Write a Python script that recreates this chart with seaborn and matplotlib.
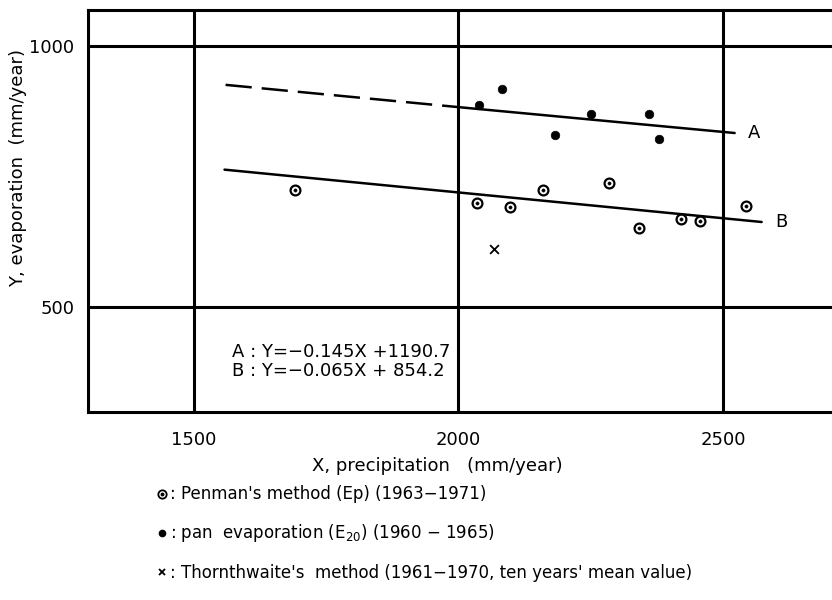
import matplotlib
matplotlib.use("Agg")
import matplotlib.pyplot as plt
import seaborn as sns
import pandas as pd
from matplotlib.lines import Line2D
from matplotlib.legend_handler import HandlerTuple

# values
penman_x = [1692, 2035, 2097, 2159, 2284, 2341, 2420, 2456, 2543]
penman_y = [725, 699, 691, 724, 738, 651, 668, 665, 694]
pan_x = [2038, 2083, 2183, 2250, 2361, 2380]
pan_y = [887, 917, 829, 869, 869, 822]
thorn_x = [2067]
thorn_y = [611]

# regression lines as drawn
line_a_dash_x = [1560, 2015]
line_a_dash_y = [925, 881]
line_a_x = [2015, 2522]
line_a_y = [881, 833]
line_b_x = [1558, 2573]
line_b_y = [763, 663]

x_ticks = [1500, 2000, 2500]
y_ticks = [500, 1000]

eq_text = "A : Y=\u22120.145X +1190.7\nB : Y=\u22120.065X + 854.2"
legend_labels = [": Penman's method (Ep) (1963\u22121971)",
                 ": pan  evaporation (E$_{20}$) (1960 \u2212 1965)",
                 ": Thornthwaite's  method (1961\u22121970, ten years' mean value)"]

sns.set_style("white")
plt.rcParams['font.family'] = ['DejaVu Sans']
plt.rcParams['text.color'] = 'black'
plt.rcParams['axes.labelcolor'] = 'black'
plt.rcParams['xtick.color'] = 'black'
plt.rcParams['ytick.color'] = 'black'

fig = plt.figure(figsize=(8.32, 6), dpi=100)
ax = fig.add_axes([88/832, 188/600, 744/832, 402/600])

df_pen = pd.DataFrame({'x': penman_x, 'y': penman_y})
df_pan = pd.DataFrame({'x': pan_x, 'y': pan_y})
df_th = pd.DataFrame({'x': thorn_x, 'y': thorn_y})

lw = 1.8
sns.lineplot(x=line_a_dash_x, y=line_a_dash_y, ax=ax, color='black', lw=lw)
ax.lines[-1].set_dashes((10.5, 4))
sns.lineplot(x=line_a_x, y=line_a_y, ax=ax, color='black', lw=lw)
sns.lineplot(x=line_b_x, y=line_b_y, ax=ax, color='black', lw=lw)

sns.scatterplot(data=df_pen, x='x', y='y', ax=ax, s=50, facecolor='white',
                edgecolor='black', linewidth=1.6, zorder=5)
sns.scatterplot(data=df_pen, x='x', y='y', ax=ax, s=6, color='black', edgecolor='black', zorder=6)
sns.scatterplot(data=df_pan, x='x', y='y', ax=ax, s=38, color='black', edgecolor='black', zorder=5)
sns.scatterplot(data=df_th, x='x', y='y', ax=ax, marker='x', s=40, color='black', linewidth=1.3, zorder=5)

ax.text(line_a_x[-1] + 25, line_a_y[-1], 'A', fontsize=13, va='center', ha='left')
ax.text(line_b_x[-1] + 25, line_b_y[-1], 'B', fontsize=13, va='center', ha='left')
ax.text(1573, 396, eq_text, fontsize=13, va='center', ha='left', linespacing=1.1)

ax.set_xlim(1300, 2706)
ax.set_ylim(300, 1068)
ax.set_xticks(x_ticks)
ax.set_yticks(y_ticks)
ax.grid(True, color='black', lw=2.2)
for s in ['left', 'bottom', 'top']:
    ax.spines[s].set_linewidth(2.2)
    ax.spines[s].set_color('black')
ax.spines['right'].set_visible(False)
ax.tick_params(axis='both', direction='out', length=8, width=2.2, color='black',
               labelsize=13, pad=2)
ax.tick_params(axis='x', pad=6)
ax.set_xlabel('')
ax.set_ylabel('')

fig.text(437/832, 1 - 466/600, 'X, precipitation   (mm/year)', fontsize=13, ha='center', va='center')
fig.text(18/832, 1 - 168/600, 'Y, evaporation  (mm/year)', fontsize=13, ha='center', va='center', rotation=90)

# legend handles
h_pen = (Line2D([], [], ls='none', marker='o', ms=6, mfc='white', mec='black', mew=1.3),
         Line2D([], [], ls='none', marker='o', ms=1.8, mfc='black', mec='black'))
h_pan = Line2D([], [], ls='none', marker='o', ms=4.5, mfc='black', mec='black')
h_th = Line2D([], [], ls='none', marker='x', ms=5, mec='black', mew=1.3)

fig.legend([h_pen, h_pan, h_th], legend_labels,
           handler_map={tuple: HandlerTuple(ndivide=1, pad=0)},
           loc='upper left', bbox_to_anchor=(147/832, 1 - 477/600),
           frameon=False, fontsize=12, handlelength=0.8, handletextpad=0.1,
           labelspacing=1.15, borderpad=0)

fig.savefig('out.png', dpi=100)
